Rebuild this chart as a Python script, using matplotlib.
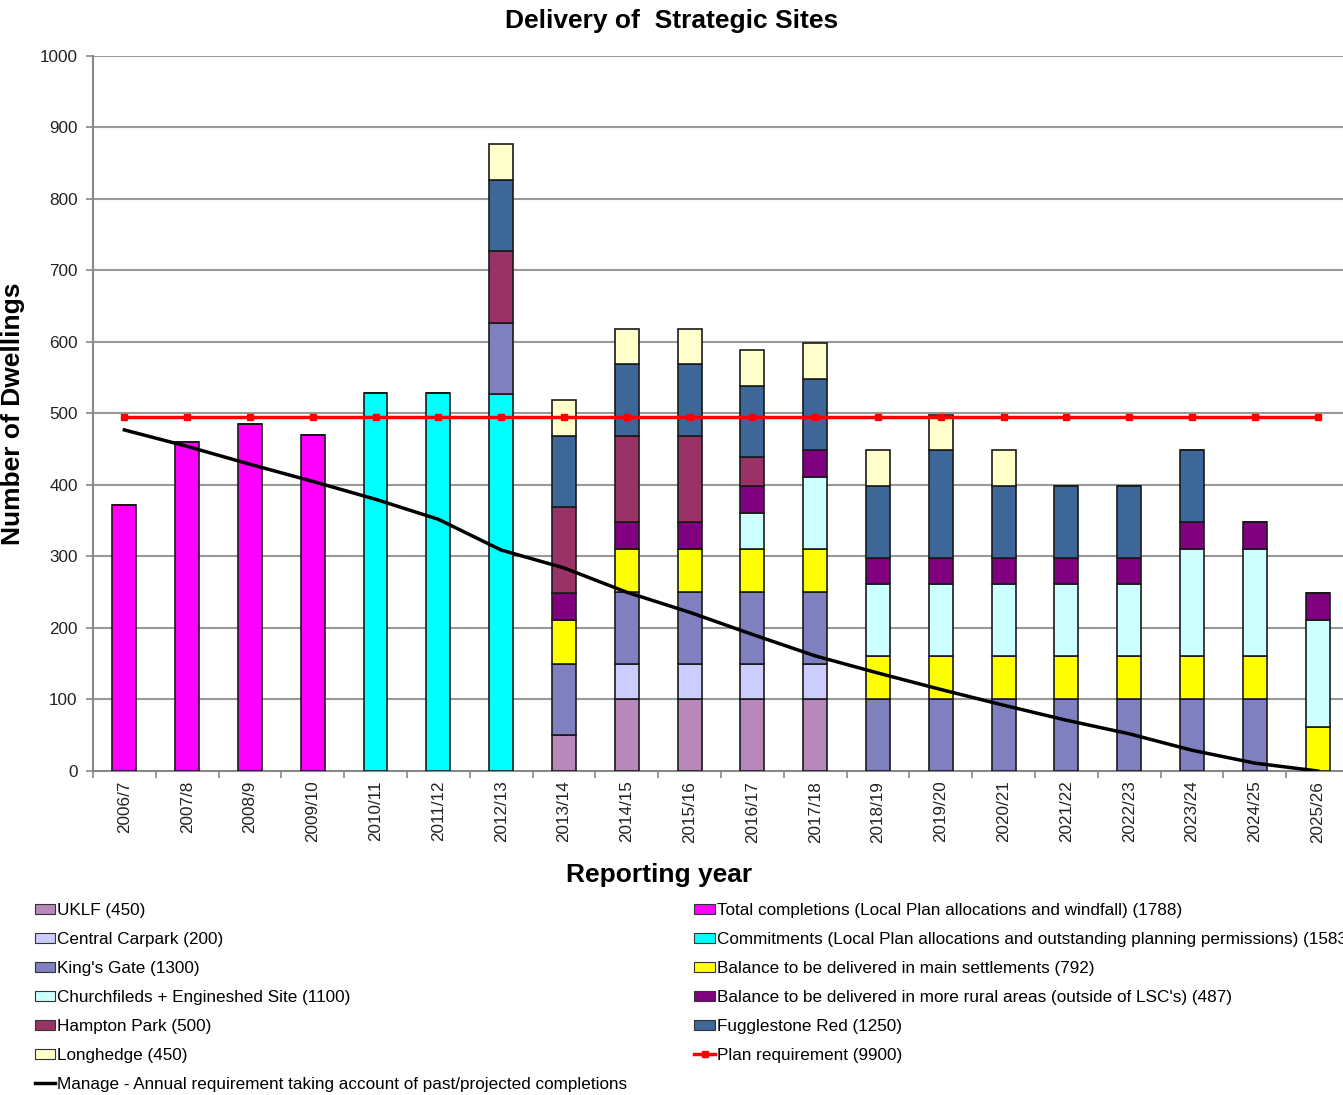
import numpy as np
import matplotlib
matplotlib.use('Agg')
import matplotlib.pyplot as plt
from matplotlib.patches import Patch
from matplotlib.lines import Line2D

plt.rcParams['font.family'] = ['Liberation Sans', 'DejaVu Sans']

#data
years = ['2006/7', '2007/8', '2008/9', '2009/10', '2010/11', '2011/12', '2012/13',
         '2013/14', '2014/15', '2015/16', '2016/17', '2017/18', '2018/19', '2019/20',
         '2020/21', '2021/22', '2022/23', '2023/24', '2024/25', '2025/26']

completions = [372, 460, 485, 470, 0, 0, 0, 0, 0, 0, 0, 0, 0, 0, 0, 0, 0, 0, 0, 0]
commitments = [0, 0, 0, 0, 528, 528, 527, 0, 0, 0, 0, 0, 0, 0, 0, 0, 0, 0, 0, 0]
uklf = [0, 0, 0, 0, 0, 0, 0, 50, 100, 100, 100, 100, 0, 0, 0, 0, 0, 0, 0, 0]
central_carpark = [0, 0, 0, 0, 0, 0, 0, 0, 50, 50, 50, 50, 0, 0, 0, 0, 0, 0, 0, 0]
kings_gate = [0, 0, 0, 0, 0, 0, 100, 100, 100, 100, 100, 100, 100, 100, 100, 100, 100, 100, 100, 0]
balance_main = [0, 0, 0, 0, 0, 0, 0, 61, 61, 61, 61, 61, 61, 61, 61, 61, 61, 61, 61, 61]
churchfields = [0, 0, 0, 0, 0, 0, 0, 0, 0, 0, 50, 100, 100, 100, 100, 100, 100, 150, 150, 150]
balance_rural = [0, 0, 0, 0, 0, 0, 0, 37.5, 37.5, 37.5, 37.5, 37.5, 37.5, 37.5, 37.5, 37.5, 37.5, 37.5, 37.5, 37.5]
hampton_park = [0, 0, 0, 0, 0, 0, 100, 120, 120, 120, 40, 0, 0, 0, 0, 0, 0, 0, 0, 0]
fugglestone = [0, 0, 0, 0, 0, 0, 100, 100, 100, 100, 100, 100, 100, 150, 100, 100, 100, 100, 0, 0]
longhedge = [0, 0, 0, 0, 0, 0, 50, 50, 50, 50, 50, 50, 50, 50, 50, 0, 0, 0, 0, 0]

manage = [477, 454, 429, 405, 380, 352, 309, 284, 250, 222, 191, 161, 137, 114, 92, 71, 52, 29, 11, 0]
plan_requirement = [495] * 20

series = [
    (completions, '#FF00FF', 'Total completions (Local Plan allocations and windfall) (1788)'),
    (commitments, '#00FFFF', 'Commitments (Local Plan allocations and outstanding planning permissions) (1583)'),
    (uklf, '#B888BA', 'UKLF (450)'),
    (central_carpark, '#CCCCFF', 'Central Carpark (200)'),
    (kings_gate, '#8080C0', "King's Gate (1300)"),
    (balance_main, '#FFFF00', 'Balance to be delivered in main settlements (792)'),
    (churchfields, '#CCFFFF', 'Churchfileds + Engineshed Site (1100)'),
    (balance_rural, '#800080', "Balance to be delivered in more rural areas (outside of LSC's) (487)"),
    (hampton_park, '#993366', 'Hampton Park (500)'),
    (fugglestone, '#3D6699', 'Fugglestone Red (1250)'),
    (longhedge, '#FFFFCC', 'Longhedge (450)'),
]

#figure
fig = plt.figure(figsize=(13.43, 10.95), dpi=100)
ax = fig.add_axes([0.0692, 0.2959, 0.9353, 0.653])

x = np.arange(len(years))
bottom = np.zeros(len(years))
handles = {}
for vals, col, lab in series:
    vals = np.array(vals, dtype=float)
    ax.bar(x, vals, 0.38, bottom=bottom, color=col, edgecolor='#1a1a1a', linewidth=1.2, zorder=3)
    handles[lab] = Patch(facecolor=col, edgecolor='#333333', linewidth=0.8)
    bottom += vals

ax.plot(x, plan_requirement, color='#FF0000', lw=2.5, marker='s', markersize=5, zorder=5)
ax.plot(x, manage, color='black', lw=2.5, zorder=6)

ax.set_xlim(-0.5, len(years) - 0.5)
ax.set_ylim(0, 1000)
ax.set_yticks(np.arange(0, 1001, 100))
ax.yaxis.grid(True, color='#999999', lw=1.5, zorder=0)
ax.set_xticks(x)
ax.set_xticklabels(years, rotation=90, fontsize=12.3, color='#222222')
ax.set_xticks(np.arange(-0.5, len(years), 1), minor=True)
ax.tick_params(axis='x', which='major', length=0, pad=7)
ax.tick_params(axis='x', which='minor', length=5, color='#888888', width=1.2)
ax.tick_params(axis='y', length=5, color='#888888', width=1.2, labelsize=12.3, labelcolor='#222222', pad=6)
for s in ['top', 'right']:
    ax.spines[s].set_visible(False)
for s in ['left', 'bottom']:
    ax.spines[s].set_color('#888888')
    ax.spines[s].set_linewidth(1.5)

fig.text(0.5, 0.981, 'Delivery of  Strategic Sites', fontsize=19, fontweight='bold', ha='center', va='center')
ax.set_ylabel('Number of Dwellings', fontsize=19, fontweight='bold')
ax.yaxis.set_label_coords(-0.054, 0.5)
ax.set_xlabel('Reporting year', fontsize=19, fontweight='bold')
ax.xaxis.set_label_coords(0.451, -0.129)

#legends
left_labels = ['UKLF (450)', 'Central Carpark (200)', "King's Gate (1300)",
               'Churchfileds + Engineshed Site (1100)', 'Hampton Park (500)', 'Longhedge (450)']
right_labels = ['Total completions (Local Plan allocations and windfall) (1788)',
                'Commitments (Local Plan allocations and outstanding planning permissions) (1583)',
                'Balance to be delivered in main settlements (792)',
                "Balance to be delivered in more rural areas (outside of LSC's) (487)",
                'Fugglestone Red (1250)']

lh = [handles[l] for l in left_labels] + [Line2D([], [], color='black', lw=2.5)]
ll = left_labels + ['Manage - Annual requirement taking account of past/projected completions']
rh = [handles[l] for l in right_labels] + [Line2D([], [], color='#FF0000', lw=2.5, marker='s', markersize=5)]
rl = right_labels + ['Plan requirement (9900)']

kw = dict(frameon=False, fontsize=12.3, handlelength=1.2, handleheight=0.55,
          handletextpad=0.1, labelspacing=0.82, borderpad=0, borderaxespad=0)
fig.legend(lh, ll, loc='upper left', bbox_to_anchor=(0.026, 0.1754), **kw)
fig.legend(rh, rl, loc='upper left', bbox_to_anchor=(0.517, 0.1754), **kw)

plt.savefig('out.png', dpi=100)
